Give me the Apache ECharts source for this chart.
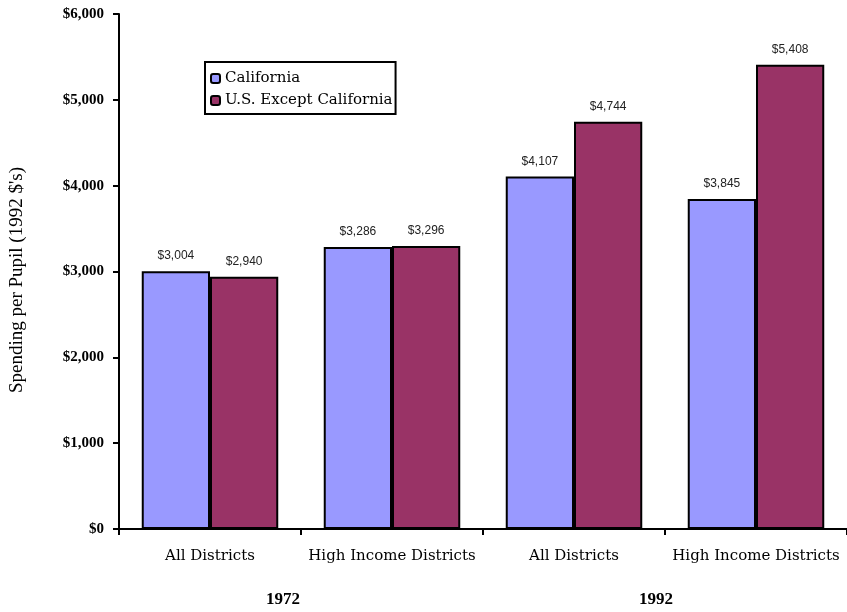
<!DOCTYPE html>
<html>
<head>
<meta charset="utf-8">
<script src="https://cdn.jsdelivr.net/npm/echarts@6/dist/echarts.min.js"></script>
<style>
  html, body { margin: 0; padding: 0; background: #fff; }
  #chart { width: 847px; height: 612px; }
</style>
</head>
<body>
<div id="chart"></div>
<script>
// Per-pupil spending by district group, in 1992 dollars
const categories = ['All Districts', 'High Income Districts', 'All Districts', 'High Income Districts'];
const years = ['1972', '1992'];
const california = [3004, 3286, 4107, 3845];
const usExceptCalifornia = [2940, 3296, 4744, 5408];
const yTicks = [0, 1000, 2000, 3000, 4000, 5000, 6000];
const yTitle = "Spending per Pupil (1992 $'s)";

const wideSerif = '"DejaVu Serif", serif';
const serif = '"Liberation Serif", "Times New Roman", serif';
const sans = '"Liberation Sans", Arial, sans-serif';

const money = v => '$' + v.toLocaleString('en-US');

const chart = echarts.init(document.getElementById('chart'));

const valueLabel = {
  show: true,
  position: 'top',
  distance: 9,
  fontFamily: sans,
  fontSize: 12,
  color: '#222',
  formatter: p => money(p.value)
};

chart.setOption({
  animation: false,
  backgroundColor: '#fff',
  grid: { left: 119, right: -2, top: 14, bottom: 83, containLabel: false },
  legend: {
    orient: 'vertical',
    left: 205,
    top: 62,
    itemWidth: 9,
    itemHeight: 9,
    itemGap: 7,
    padding: [9, 3, 6, 5],
    borderColor: '#000',
    borderWidth: 2,
    backgroundColor: '#fff',
    textStyle: { fontFamily: wideSerif, fontSize: 15, color: '#000' },
    data: ['California', 'U.S. Except California']
  },
  xAxis: {
    type: 'category',
    data: categories,
    axisLine: { lineStyle: { color: '#000', width: 2 } },
    axisTick: { show: true, interval: 0, length: 6, lineStyle: { color: '#000', width: 2 } },
    axisLabel: { interval: 0, fontFamily: wideSerif, fontSize: 15, color: '#000', margin: 20 }
  },
  yAxis: {
    type: 'value',
    min: yTicks[0],
    max: yTicks[yTicks.length - 1],
    interval: 1000,
    axisLine: { show: true, lineStyle: { color: '#000', width: 2 } },
    axisTick: { show: true, length: 6, lineStyle: { color: '#000', width: 2 } },
    splitLine: { show: false },
    axisLabel: {
      fontFamily: serif, fontSize: 15, fontWeight: 'bold', color: '#000', margin: 15,
      formatter: v => money(v)
    }
  },
  graphic: [
    {
      type: 'text',
      x: 17,
      y: 280,
      rotation: Math.PI / 2,
      style: {
        text: yTitle,
        font: '19px ' + serif,
        fill: '#000',
        align: 'center',
        verticalAlign: 'middle'
      }
    }
  ].concat(years.map((y, i) => ({
    type: 'text',
    x: i === 0 ? 283 : 656,
    y: 600,
    style: {
      text: y,
      font: 'bold 17px ' + serif,
      fill: '#000',
      align: 'center',
      verticalAlign: 'middle'
    }
  }))),
  series: [
    {
      name: 'California',
      type: 'bar',
      data: california,
      barGap: '0%',
      barCategoryGap: '25%',
      itemStyle: { color: '#9999FF', borderColor: '#000', borderWidth: 2 },
      label: valueLabel
    },
    {
      name: 'U.S. Except California',
      type: 'bar',
      data: usExceptCalifornia,
      itemStyle: { color: '#993366', borderColor: '#000', borderWidth: 2 },
      label: valueLabel
    }
  ]
});
</script>
</body>
</html>
